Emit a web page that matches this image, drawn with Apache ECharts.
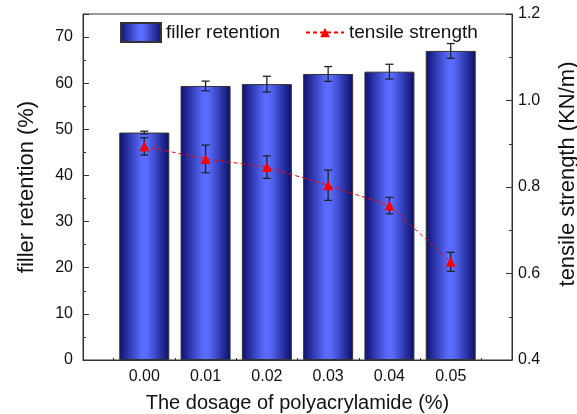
<!DOCTYPE html>
<html>
<head>
<meta charset="utf-8">
<script src="https://cdn.jsdelivr.net/npm/echarts@6/dist/echarts.min.js"></script>
<style>
  html, body { margin: 0; padding: 0; background: #fff; }
  #chart { width: 577px; height: 414px; }
</style>
</head>
<body>
<div id="chart"></div>
<script>
// dosage of polyacrylamide (%)
var dosage = [0.00, 0.01, 0.02, 0.03, 0.04, 0.05];
// filler retention (%) and its error
var retention = [49.3, 59.4, 59.8, 62.0, 62.5, 67.0];
var retentionErr = [0.3, 1.05, 1.7, 1.6, 1.6, 1.6];
// tensile strength (KN/m) and its error
var tensile = [0.894, 0.865, 0.846, 0.804, 0.757, 0.627];
var tensileErr = [0.020, 0.032, 0.026, 0.035, 0.019, 0.022];

var font = "'Liberation Sans', Arial, sans-serif";
var axisColor = '#333';

var barGradient = new echarts.graphic.LinearGradient(0, 0, 1, 0, [
    { offset: 0, color: '#0d1070' },
    { offset: 0.45, color: '#5a6cff' },
    { offset: 0.55, color: '#5a6cff' },
    { offset: 1, color: '#0b0e68' }
]);

function pairs(xs, ys) {
    return xs.map(function (x, i) { return [x, ys[i]]; });
}
function errData(xs, ys, es) {
    return xs.map(function (x, i) { return [x, ys[i] - es[i], ys[i] + es[i]]; });
}

// draw one error bar with caps through the axis scales
function renderErr(params, api) {
    var lo = api.coord([api.value(0), api.value(1)]);
    var hi = api.coord([api.value(0), api.value(2)]);
    var cap = 4;
    var style = { stroke: '#222', lineWidth: 1.3 };
    return {
        type: 'group',
        children: [
            { type: 'line', shape: { x1: lo[0], y1: lo[1], x2: hi[0], y2: hi[1] }, style: style },
            { type: 'line', shape: { x1: lo[0] - cap, y1: lo[1], x2: lo[0] + cap, y2: lo[1] }, style: style },
            { type: 'line', shape: { x1: hi[0] - cap, y1: hi[1], x2: hi[0] + cap, y2: hi[1] }, style: style }
        ]
    };
}

var chart = echarts.init(document.getElementById('chart'));
var option = {
    animation: false,
    textStyle: { fontFamily: font },
    grid: {
        left: 83, right: 65, top: 14, bottom: 54,
        outerBoundsMode: 'none',
        containLabel: false,
        show: true, borderColor: axisColor, borderWidth: 1, backgroundColor: 'transparent'
    },
    legend: [{
        left: 115, top: 17,
        itemWidth: 40, itemHeight: 19,
        icon: 'rect',
        textStyle: { fontSize: 19, color: '#111', fontFamily: font },
        data: ['filler retention']
    }, {
        left: 300, top: 18,
        itemWidth: 38, itemHeight: 12,
        textStyle: { fontSize: 19, color: '#111', fontFamily: font },
        data: ['tensile strength']
    }],
    xAxis: {
        type: 'value',
        min: -0.01, max: 0.06, interval: 0.01,
        name: 'The dosage of polyacrylamide (%)',
        nameLocation: 'middle', nameGap: 33,
        nameTextStyle: { fontSize: 20, color: '#111', fontFamily: font },
        splitLine: { show: false },
        axisLine: { onZero: false, lineStyle: { color: axisColor } },
        axisTick: { inside: true, length: 4, lineStyle: { color: axisColor } },
        minorTick: { show: true, splitNumber: 2, length: 2, lineStyle: { color: axisColor } },
        axisLabel: {
            fontSize: 16, color: '#111', margin: 9,
            formatter: function (v) {
                if (v < -0.001 || v > 0.0501) return '';
                return Math.abs(v).toFixed(2);
            }
        }
    },
    yAxis: [{
        type: 'value',
        min: 0, max: 75, interval: 10,
        name: 'filler retention (%)',
        nameLocation: 'middle', nameGap: 45,
        nameTextStyle: { fontSize: 22, color: '#111', fontFamily: font },
        splitLine: { show: false },
        axisLine: { show: true, onZero: false, lineStyle: { color: axisColor } },
        axisTick: { inside: true, length: 6, lineStyle: { color: axisColor } },
        minorTick: { show: true, splitNumber: 2, length: 3, lineStyle: { color: axisColor } },
        axisLabel: {
            fontSize: 16, color: '#111', margin: 10,
            formatter: function (v) { return v > 70 ? '' : v; }
        }
    }, {
        type: 'value',
        min: 0.4, max: 1.2, interval: 0.2,
        name: 'tensile strength (KN/m)',
        nameLocation: 'middle', nameGap: 45,
        nameTextStyle: { fontSize: 22, color: '#111', fontFamily: font, padding: [0, 0, 0, 26] },
        splitLine: { show: false },
        axisLine: { show: true, onZero: false, lineStyle: { color: axisColor } },
        axisTick: { inside: true, length: 6, lineStyle: { color: axisColor } },
        minorTick: { show: true, splitNumber: 2, length: 3, lineStyle: { color: axisColor } },
        axisLabel: {
            fontSize: 16, color: '#111', margin: 6,
            formatter: function (v) { return v.toFixed(1); }
        }
    }],
    series: [{
        name: 'filler retention',
        type: 'bar',
        barWidth: 50,
        yAxisIndex: 0,
        itemStyle: { color: barGradient, borderColor: '#333', borderWidth: 1 },
        data: pairs(dosage, retention),
        z: 2
    }, {
        type: 'custom',
        yAxisIndex: 0,
        renderItem: renderErr,
        data: errData(dosage, retention, retentionErr),
        z: 3
    }, {
        type: 'custom',
        yAxisIndex: 1,
        renderItem: renderErr,
        data: errData(dosage, tensile, tensileErr),
        z: 3
    }, {
        name: 'tensile strength',
        type: 'line',
        yAxisIndex: 1,
        symbol: 'triangle',
        symbolSize: 10,
        itemStyle: { color: '#ff0000' },
        lineStyle: { color: '#ff0000', width: 1, type: [4, 3] },
        data: pairs(dosage, tensile),
        z: 4
    }]
};
chart.setOption(option);
</script>
</body>
</html>
